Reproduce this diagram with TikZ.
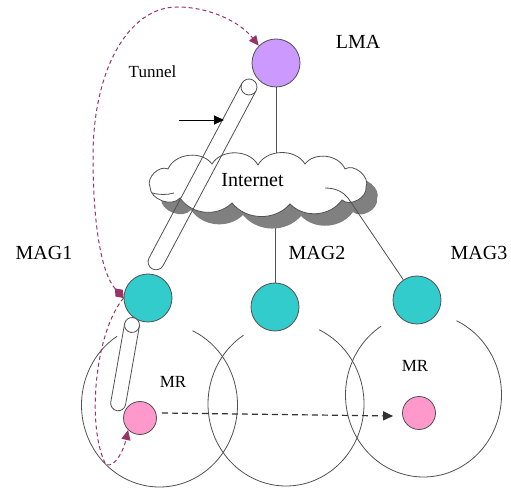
\documentclass[tikz,border=0pt]{standalone}
\usepackage{fontspec}
\setmainfont{Liberation Serif}
\usetikzlibrary{arrows.meta}
\definecolor{lmac}{HTML}{CC99FF}
\definecolor{magc}{HTML}{33CCCC}
\definecolor{mrc}{HTML}{FF99CC}
\definecolor{pathc}{HTML}{993366}
\definecolor{linec}{HTML}{505050}
\begin{document}
\begin{tikzpicture}[x=1pt,y=1pt,
  agent/.style={circle,draw=linec,line width=0.8pt,inner sep=0pt,minimum size=48pt},
  mrnode/.style={circle,draw=linec,line width=0.8pt,inner sep=0pt,minimum size=33pt,fill=mrc},
  lbl/.style={font=\fontsize{20}{24}\selectfont,inner sep=0pt},
  slbl/.style={font=\fontsize{17}{20}\selectfont,inner sep=0pt},
  conn/.style={draw=linec,line width=0.8pt},
  route/.style={draw=pathc,line width=1pt,dash pattern=on 4pt off 3pt},
  ]
\useasboundingbox (0,0) rectangle (511,487);
% coverage areas
\draw[conn] ([shift={(123:78 and 82)}]159.5,82) arc[start angle=123,end angle=425,x radius=78,y radius=82];
\draw[conn] ([shift={(123:78 and 82)}]286,83) arc[start angle=123,end angle=425,x radius=78,y radius=82];
\draw[conn] ([shift={(123:78 and 82)}]423.5,92) arc[start angle=123,end angle=425,x radius=78,y radius=82];
% nodes
\node[agent,fill=lmac] (LMA) at (276,424) {};
\node[agent,fill=magc] (MAG1) at (148,189) {};
\node[agent,fill=magc] (MAG2) at (275,180) {};
\node[agent,fill=magc] (MAG3) at (417,187) {};
\node[mrnode] (MR1) at (140,69) {};
\node[mrnode] (MR2) at (419,74) {};
% links (hidden behind the cloud where they enter it)
\coordinate (ctop) at (276,305);
\coordinate (cbot) at (275,300);
\draw[conn] (LMA) -- (ctop);
\draw[conn] (cbot) -- (MAG2);
% cloud with shadow
\begin{scope}[shift={(11,-12)}]
\fill[black!50]
    (150,300) to[bend left=70] (168,318) to[bend left=60] (212,323)
    to[bend left=60] (258,322) to[bend left=60] (305,323)
    to[bend left=60] (345,318) to[bend left=75] (366,300)
    to[bend left=70] (342,287) to[bend left=50] (290,283)
    to[bend left=50] (232,284) to[bend left=50] (180,289)
    to[bend left=70] (150,300) -- cycle;
\end{scope}
\filldraw[conn,fill=white]
    (150,300) to[bend left=70] (168,318) to[bend left=60] (212,323)
    to[bend left=60] (258,322) to[bend left=60] (305,323)
    to[bend left=60] (345,318) to[bend left=75] (366,300)
    to[bend left=70] (342,287) to[bend left=50] (290,283)
    to[bend left=50] (232,284) to[bend left=50] (180,289)
    to[bend left=70] (150,300) -- cycle;
\draw[conn] (325,299) .. controls (336,299) and (343,295) .. (348,289);
\draw[conn] (152,294) .. controls (160,292) and (167,292) .. (174,294);
\node[lbl] (lnet) at (252.5,307) {Internet};
\coordinate (c3) at (348,289);
\draw[conn] (c3) -- (MAG3);
% tunnels
\begin{scope}[shift={(249,400)},rotate=242]
\draw[conn] (0,8) -- (198,8) arc[start angle=90,end angle=-90,radius=8] -- (0,-8);
\draw[conn,fill=white] (0,0) circle[radius=8];
\end{scope}
\begin{scope}[shift={(132,162)},rotate=260]
\draw[conn] (0,7.5) -- (79.5,7.5) arc[start angle=90,end angle=-90,radius=7.5] -- (0,-7.5);
\draw[conn,fill=white] (0,0) circle[radius=7.5];
\end{scope}
% tunnel arrow
\coordinate (ta) at (179,367);
\coordinate (tb) at (224,367);
\draw[line width=0.9pt,-{Triangle[length=10pt,width=9pt]}] (ta) -- (tb);
% labels
\node[lbl] (lLMA) at (358,445) {LMA};
\node[slbl] (lTun) at (152.5,415) {Tunnel};
\node[lbl] (lM1) at (44,234) {MAG1};
\node[lbl] (lM2) at (317,234) {MAG2};
\node[lbl] (lM3) at (479,234) {MAG3};
\node[slbl] (lMR1) at (173,105) {MR};
\node[slbl] (lMR2) at (415,121) {MR};
% movement
\draw[draw=black!80,line width=1.2pt,dash pattern=on 6pt off 4pt,-{Triangle[length=10pt,width=9pt]}]
  ([shift={(5pt,5pt)}]MR1.east) -- ([shift={(-9pt,-3pt)}]MR2.west);
% signalling routes
\draw[route,{Diamond[length=13pt,width=10pt,fill=pathc]}-{Triangle[length=10pt,width=9pt,fill=pathc]}]
  (MAG1.west) .. controls (100,215) and (93,270) .. (93,330)
  .. controls (93,420) and (130,480) .. (177,480)
  .. controls (210,480) and (240,465) .. (LMA.north west);
\draw[route,-{Triangle[length=10pt,width=9pt,fill=pathc]}]
  (MAG1.west) .. controls (95,155) and (86,60) .. (106,22)
  .. controls (116,20) and (124,38) .. (MR1.south west);
\end{tikzpicture}
\end{document}
